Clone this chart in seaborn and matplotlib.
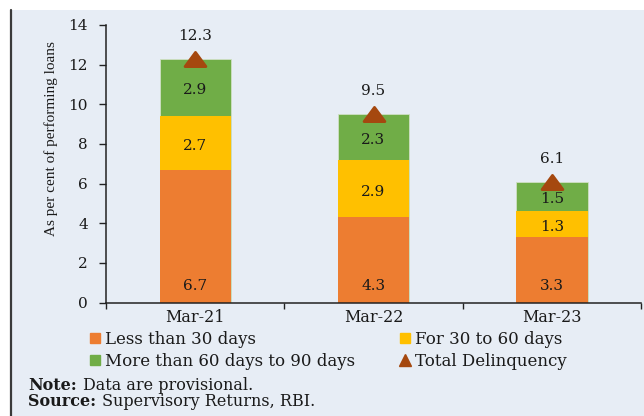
import numpy as np
import pandas as pd
import matplotlib
matplotlib.use("Agg")
import matplotlib.pyplot as plt
from matplotlib.lines import Line2D
from matplotlib.patches import Rectangle
from matplotlib.path import Path
import seaborn as sns

# ---- data ----
categories = ["Mar-21", "Mar-22", "Mar-23"]
less_30 = [6.7, 4.3, 3.3]
d30_60 = [2.7, 2.9, 1.3]
d60_90 = [2.9, 2.3, 1.5]
total = [12.3, 9.5, 6.1]
series_names = ["Less than 30 days", "For 30 to 60 days",
                "More than 60 days to 90 days", "Total Delinquency"]
yticks = [0, 2, 4, 6, 8, 10, 12, 14]
notes = [("Note:", "Data are provisional."),
         ("Source:", "Supervisory Returns, RBI.")]

C_ORANGE = "#ED7D31"
C_YELLOW = "#FFC000"
C_GREEN = "#70AD47"
C_TRI = "#A5480F"
BG = "#E7EDF5"
TXT = "#1a1a1a"

sns.set_theme(style="white")
plt.rcParams["font.family"] = ["DejaVu Serif"]
FS = 11

fig = plt.figure(figsize=(6.44, 4.16), dpi=100, facecolor="white")
W, H = 644, 416
fig.patches.append(Rectangle((10 / W, 0), 1 - 10 / W, 1 - 10 / H,
                             transform=fig.transFigure, facecolor=BG,
                             edgecolor="none", zorder=-10))
fig.lines.append(Line2D([10.5 / W, 10.5 / W], [0, 1 - 10 / H],
                        transform=fig.transFigure, color="#3a3a3a", lw=1.6))

ax = fig.add_axes([106 / W, 1 - 302.5 / H, (641 - 106) / W, (302.5 - 25) / H])
ax.set_facecolor("none")

cum_a = np.array(less_30)
cum_b = cum_a + np.array(d30_60)
cum_c = cum_b + np.array(d60_90)

sns.barplot(x=categories, y=cum_c, color=C_GREEN, width=0.4, ax=ax,
            saturation=1, linewidth=0.6, edgecolor="#cfe0c4")
sns.barplot(x=categories, y=cum_b, color=C_YELLOW, width=0.4, ax=ax,
            saturation=1, linewidth=0)
sns.barplot(x=categories, y=cum_a, color=C_ORANGE, width=0.4, ax=ax,
            saturation=1, linewidth=0)

tri = Path([(0, 0.68), (-1, -0.68), (1, -0.68), (0, 0.68)],
           [Path.MOVETO, Path.LINETO, Path.LINETO, Path.CLOSEPOLY])
sns.pointplot(x=categories, y=total, color=C_TRI, marker=tri, linestyle="none",
              markersize=15, ax=ax, errorbar=None, zorder=5)

# segment labels
for i in range(len(categories)):
    ax.annotate(f"{less_30[i]:.1f}", (i, 0), xytext=(0, 17),
                textcoords="offset pixels", ha="center", va="center",
                fontsize=FS, color=TXT)
    ax.annotate(f"{d30_60[i]:.1f}", (i, cum_a[i] + d30_60[i] / 2),
                xytext=(0, -3), textcoords="offset pixels", ha="center",
                va="center", fontsize=FS, color=TXT)
    ax.annotate(f"{d60_90[i]:.1f}", (i, cum_b[i] + d60_90[i] / 2),
                xytext=(0, -3), textcoords="offset pixels", ha="center",
                va="center", fontsize=FS, color=TXT)
    ax.annotate(f"{total[i]:.1f}", (i, total[i]), xytext=(0, 23),
                textcoords="offset pixels", ha="center", va="center",
                fontsize=FS, color=TXT)

ax.set_xlim(-0.5, 2.5)
ax.set_ylim(0, 14)
ax.set_yticks(yticks)
ax.set_yticklabels([str(v) for v in yticks], fontsize=FS, color=TXT)
ax.set_xticks([-0.5, 0.5, 1.5, 2.5])
ax.set_xticklabels([])
ax.set_xticks(range(len(categories)), minor=True)
ax.set_xticklabels(categories, minor=True, fontsize=FS + 0.5, color=TXT)
ax.tick_params(axis="x", which="major", direction="out", length=4, width=1,
               color="#222222", bottom=True)
ax.tick_params(axis="x", which="minor", length=0, pad=5)
ax.tick_params(axis="y", direction="out", length=5, width=1, color="#222222",
               left=True, pad=8)
ax.set_xlabel("")
ax.set_ylabel("As per cent of performing loans", family="Liberation Serif",
              fontsize=11, color=TXT)
ax.yaxis.set_label_coords(-0.0905, 0.589)
for s in ["top", "right"]:
    ax.spines[s].set_visible(False)
for s in ["left", "bottom"]:
    ax.spines[s].set_color("#222222")
    ax.spines[s].set_linewidth(1.1)
ax.grid(False)

LFS = 12
handles = [
    Line2D([], [], marker="s", linestyle="none", color=C_ORANGE, markersize=7),
    Line2D([], [], marker="s", linestyle="none", color=C_GREEN, markersize=7),
    Line2D([], [], marker="s", linestyle="none", color=C_YELLOW, markersize=7),
    Line2D([], [], marker="^", linestyle="none", color=C_TRI, markersize=8),
]
labels = [series_names[0], series_names[2], series_names[1], series_names[3]]
fig.legend(handles, labels, ncol=2, loc="upper left",
           bbox_to_anchor=(88 / W, 1 - 331 / H), frameon=False,
           fontsize=LFS, handlelength=0.8, handletextpad=0.2,
           columnspacing=2.6, borderpad=0, borderaxespad=0,
           labelspacing=0.3, labelcolor=TXT)

# notes: bold lead-in followed by normal text
NFS = 11.5
renderer = fig.canvas.get_renderer()
for ypix, (lead, rest) in zip([386, 402], notes):
    t = fig.text(28 / W, 1 - ypix / H, lead, fontsize=NFS, fontweight="bold",
                 color=TXT, va="center")
    bb = t.get_window_extent(renderer=renderer)
    fig.text((bb.x1 + 6) / W, 1 - ypix / H, rest, fontsize=NFS,
             color=TXT, va="center")

fig.savefig("out.png", dpi=100, facecolor="white")
